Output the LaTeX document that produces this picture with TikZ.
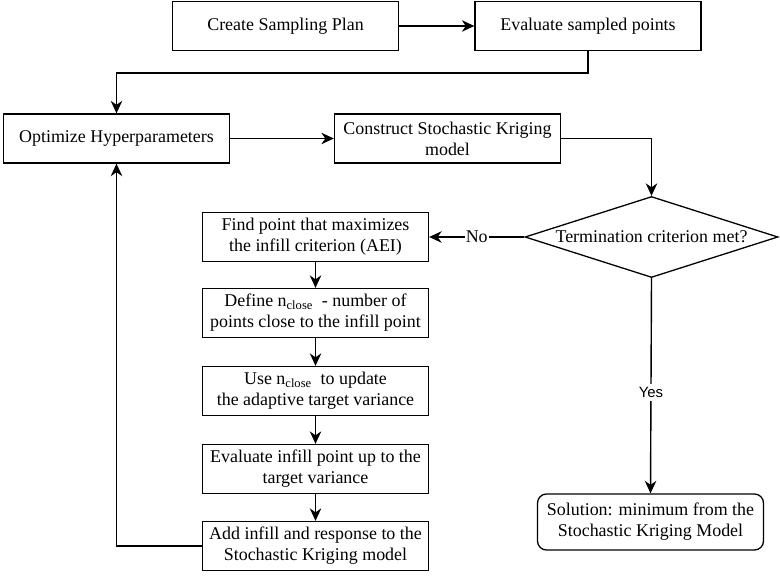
\documentclass[tikz,border=0pt]{standalone}
\usepackage{fontspec}
\setmainfont{Liberation Serif}
\newfontfamily\yesfont{Liberation Sans}
\usetikzlibrary{arrows.meta, shapes.geometric}

\tikzset{
  box/.style = {draw, line width = 1.3bp, minimum width = 226bp,
    minimum height = 49bp, inner sep = 1bp, align = center},
  decision/.style = {draw, line width = 1.3bp, shape = diamond,
    minimum width = 253bp, minimum height = 81bp, aspect = 3.1,
    inner sep = 0pt},
  flow/.style = {-{Stealth[length = 12.5bp, width = 11.5bp, inset = 4bp]},
    line width = 1.4bp}
}

\begin{document}
\begin{tikzpicture}[x = 1bp, y = -1bp,
    font = \fontsize{18}{21}\selectfont]

  \useasboundingbox (0, 0) rectangle (780, 576);

  % top row and model building
  \node[box] (plan) at (285.5, 26) {Create Sampling Plan};
  \node[box] (evalpts) at (588, 26) {Evaluate sampled points};
  \node[box] (hyper) at (116.5, 138.5) {Optimize Hyperparameters};
  \node[box] (model) at (447.5, 138.5)
    {Construct Stochastic Kriging\\model};
  \node[decision] (stop) at (651.5, 237) {Termination criterion met?};

  % infill loop
  \node[box] (find) at (315.5, 237)
    {Find point that maximizes\\the infill criterion (AEI)};
  \node[box] (nclose) at (315.5, 313)
    {Define n\textsubscript{close}\ \ - number of\\points close to the infill point};
  \node[box] (target) at (315.5, 391)
    {Use n\textsubscript{close}\ \ to update\\the adaptive target variance};
  \node[box] (infill) at (315.5, 469)
    {Evaluate infill point up to the\\target variance};
  \node[box] (update) at (315.5, 546)
    {Add infill and response to the\\Stochastic Kriging model};

  \node[box, rounded corners = 9bp, minimum height = 56bp] (sol)
    at (650.5, 522)
    {Solution: minimum from the\\Stochastic Kriging Model};

  \draw[flow] (plan) -- (evalpts);
  \draw[flow] (evalpts.south) -- ++(0, 22) -| (hyper.north);
  \draw[flow] (hyper) -- (model);
  \draw[flow] (model.east) -| (stop.north);
  \draw[flow] (stop.west) -- node[fill = white, inner sep = 1bp] {No}
    (find.east);
  \draw[flow] (stop.south) -- node[fill = white, pos = 0.53,
      font = \yesfont\fontsize{15}{18}\selectfont] {Yes}
    (sol.north);

  \foreach \a/\b in {find/nclose, nclose/target, target/infill,
      infill/update} {
    \draw[flow] (\a) -- (\b);
  }

  \draw[flow] (update.west) -| (hyper.south);

\end{tikzpicture}
\end{document}
